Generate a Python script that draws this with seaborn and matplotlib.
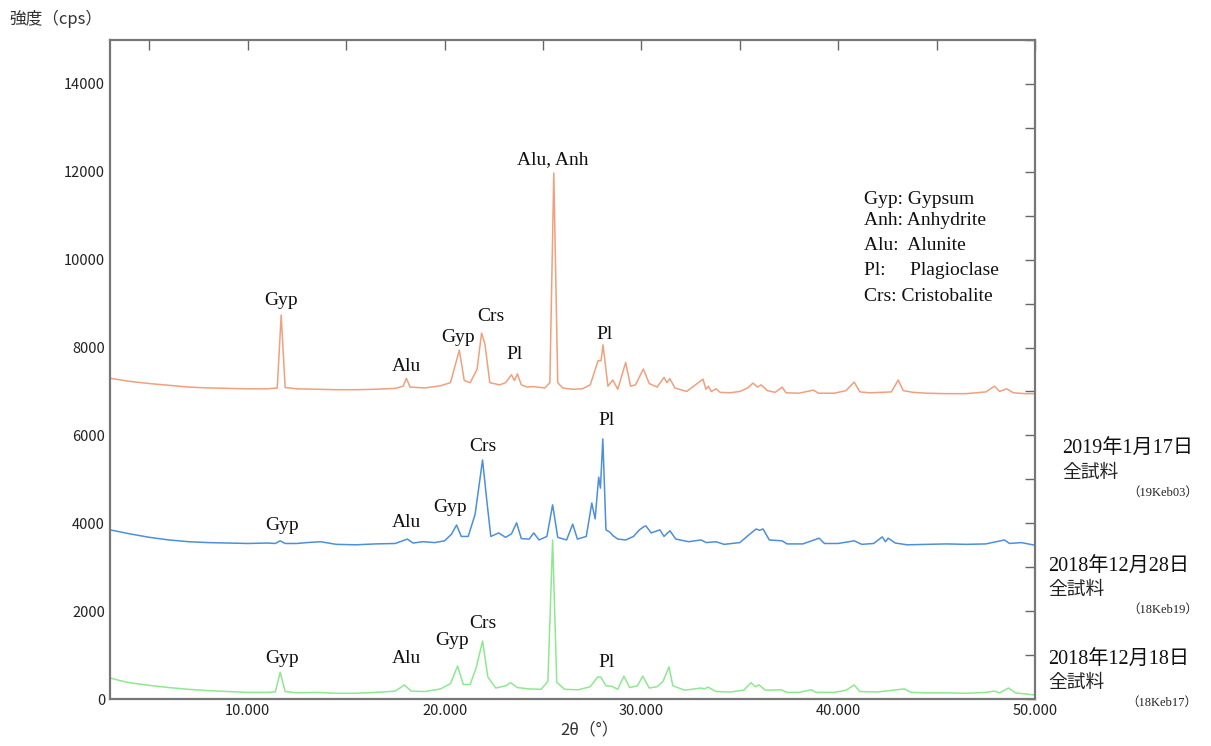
import pandas as pd
import seaborn as sns
import matplotlib.pyplot as plt
from matplotlib.ticker import MultipleLocator, FixedLocator

# 2019年1月17日 (19Keb03)
tt_19keb03 = [3.0, 4.0, 5.0, 6.0, 7.0, 8.0, 9.0, 10.0, 11.0, 11.5, 11.7, 11.9, 12.5, 13.5, 14.5,
              15.5, 16.5, 17.5, 17.9, 18.06, 18.25, 19.0, 19.8, 20.3, 20.75, 21.0, 21.3, 21.65,
              21.88, 22.05, 22.3, 22.8, 23.1, 23.4, 23.55, 23.7, 23.9, 24.2, 24.5, 25.1, 25.35,
              25.55, 25.75, 26.0, 26.5, 27.0, 27.4, 27.8, 27.95, 28.05, 28.3, 28.55, 28.8, 29.2,
              29.45, 29.7, 30.1, 30.4, 30.8, 31.15, 31.3, 31.45, 31.7, 32.3, 33.13, 33.28, 33.4,
              33.55, 33.8, 34.0, 34.5, 35.0, 35.4, 35.67, 35.9, 36.08, 36.4, 36.8, 37.15, 37.35,
              38.0, 38.73, 39.0, 39.8, 40.4, 40.81, 41.1, 41.6, 42.2, 42.7, 43.05, 43.3, 43.8,
              44.5, 45.5, 46.5, 47.5, 47.94, 48.2, 48.55, 48.9, 49.5, 50.0]
i_19keb03 = [7300, 7230, 7180, 7140, 7100, 7080, 7070, 7060, 7060, 7080, 8740, 7090, 7060, 7050, 7040,
             7040, 7050, 7070, 7120, 7300, 7100, 7080, 7130, 7200, 7940, 7250, 7200, 7500,
             8330, 8080, 7200, 7150, 7200, 7380, 7250, 7400, 7150, 7100, 7110, 7080, 7200,
             11970, 7200, 7080, 7050, 7060, 7150, 7700, 7700, 8060, 7120, 7260, 7050, 7660,
             7120, 7150, 7510, 7180, 7100, 7320, 7200, 7290, 7080, 7000, 7280, 7050, 7120,
             7000, 7060, 6980, 6970, 7000, 7080, 7190, 7100, 7150, 7020, 6980, 7100, 6970,
             6960, 7030, 6960, 6960, 7020, 7215, 6990, 6970, 6980, 6990, 7260, 7020, 6980,
             6960, 6950, 6950, 6990, 7120, 7000, 7060, 6970, 6950, 6950]

# 2018年12月28日 (18Keb19)
tt_18keb19 = [3.0, 4.0, 5.0, 6.0, 7.0, 8.0, 9.0, 10.0, 11.0, 11.4, 11.65, 11.9, 12.5, 13.0, 13.7,
              14.5, 15.5, 16.5, 17.5, 18.11, 18.4, 18.9, 19.5, 20.0, 20.35, 20.61, 20.85, 21.2,
              21.55, 21.93, 22.15, 22.35, 22.75, 23.1, 23.4, 23.66, 23.9, 24.3, 24.53, 24.8, 25.2,
              25.49, 25.75, 26.2, 26.51, 26.75, 27.2, 27.48, 27.65, 27.83, 27.92, 28.04, 28.2,
              28.39, 28.55, 28.8, 29.2, 29.6, 29.9, 30.12, 30.23, 30.5, 30.94, 31.15, 31.45,
              31.75, 32.4, 33.03, 33.3, 33.79, 34.2, 35.0, 35.5, 35.83, 36.0, 36.18, 36.5, 37.15,
              37.4, 38.2, 39.03, 39.3, 40.0, 40.81, 41.2, 41.8, 42.24, 42.4, 42.54, 42.9, 43.5,
              44.5, 45.5, 46.5, 47.5, 48.45, 48.7, 49.3, 50.0]
i_18keb19 = [3850, 3760, 3680, 3620, 3580, 3560, 3550, 3540, 3550, 3540, 3600, 3540, 3540, 3560, 3580,
             3520, 3510, 3530, 3540, 3640, 3550, 3580, 3560, 3600, 3750, 3960, 3700, 3700,
             4200, 5440, 4500, 3700, 3780, 3680, 3760, 4010, 3650, 3640, 3780, 3620, 3700,
             4420, 3680, 3620, 3980, 3640, 3700, 4460, 4100, 5050, 4800, 5920, 3850,
             3800, 3720, 3640, 3620, 3700, 3850, 3920, 3940, 3780, 3850, 3700, 3830,
             3640, 3580, 3620, 3560, 3580, 3520, 3560, 3750, 3870, 3840, 3870, 3620, 3600,
             3530, 3530, 3660, 3540, 3540, 3600, 3520, 3540, 3690, 3580, 3660, 3550, 3510,
             3520, 3530, 3520, 3530, 3620, 3540, 3560, 3500]

# 2018年12月18日 (18Keb17)
tt_18keb17 = [3.0, 3.5, 4.0, 5.0, 6.0, 7.0, 8.0, 9.0, 10.0, 11.0, 11.4, 11.65, 11.9, 12.5, 13.5,
              14.5, 15.5, 16.5, 17.5, 17.96, 18.3, 19.0, 19.8, 20.3, 20.66, 20.95, 21.3, 21.6,
              21.93, 22.2, 22.6, 23.1, 23.36, 23.7, 24.3, 24.9, 25.25, 25.49, 25.7, 26.1, 26.8,
              27.4, 27.78, 27.94, 28.2, 28.5, 28.8, 29.11, 29.4, 29.8, 30.07, 30.4, 30.8, 31.1,
              31.4, 31.6, 32.2, 33.03, 33.2, 33.38, 33.8, 34.5, 35.2, 35.57, 35.8, 35.98, 36.3,
              37.1, 37.4, 38.0, 38.62, 38.9, 39.8, 40.4, 40.81, 41.1, 42.0, 43.36, 43.7, 44.5,
              45.49, 46.5, 47.5, 47.94, 48.2, 48.65, 49.0, 50.0]
i_18keb17 = [480, 420, 370, 310, 260, 220, 190, 170, 150, 150, 160, 610, 170, 140, 150,
             130, 130, 150, 180, 320, 180, 170, 230, 350, 750, 330, 330, 700,
             1320, 500, 250, 300, 370, 260, 230, 220, 400, 3620, 380, 220, 210,
             280, 500, 500, 300, 290, 220, 520, 260, 300, 520, 250, 280, 400,
             730, 300, 200, 250, 230, 270, 170, 160, 200, 370, 280, 320, 200,
             210, 150, 150, 210, 150, 150, 200, 320, 170, 160, 230, 150, 140,
             140, 130, 150, 180, 140, 250, 140, 90]

# peak labels: (text, 2θ, cps)
labels_19keb03 = [("Gyp", 11.7, 9080), ("Alu", 18.06, 7560), ("Gyp", 20.7, 8220), ("Crs", 22.34, 8700),
                  ("Pl", 23.56, 7830), ("Alu, Anh", 25.49, 12270), ("Pl", 28.14, 8290)]
labels_18keb19 = [("Gyp", 11.75, 3960), ("Alu", 18.06, 4010), ("Gyp", 20.3, 4350), ("Crs", 21.93, 5740),
                  ("Pl", 28.24, 6330)]
labels_18keb17 = [("Gyp", 11.75, 930), ("Alu", 18.06, 930), ("Gyp", 20.4, 1340), ("Crs", 21.93, 1710),
                  ("Pl", 28.24, 820)]

mineral_key = ["Gyp: Gypsum", "Anh: Anhydrite", "Alu:  Alunite", "Pl:     Plagioclase", "Crs: Cristobalite"]
key_y = [11360, 10880, 10330, 9760, 9170]

sample_dates = ["2019年1月17日", "2018年12月28日", "2018年12月18日"]
sample_codes = ["（19Keb03）", "（18Keb19）", "（18Keb17）"]
sample_y = [0.397, 0.239, 0.115]
sample_x = [0.877, 0.8655, 0.8655]

colors = ["#F0A07C", "#4C8FDC", "#8EE890"]

df = pd.concat([
    pd.DataFrame({"tt": tt_19keb03, "cps": i_19keb03, "sample": "19Keb03"}),
    pd.DataFrame({"tt": tt_18keb19, "cps": i_18keb19, "sample": "18Keb19"}),
    pd.DataFrame({"tt": tt_18keb17, "cps": i_18keb17, "sample": "18Keb17"}),
])

sns.set_style("white")
plt.rcParams['font.family'] = ['Noto Sans CJK JP', 'DejaVu Sans']
serif = ['Liberation Serif', 'Noto Sans CJK JP']

fig = plt.figure(figsize=(12.11, 7.46), dpi=100)
ax = fig.add_axes([0.0908, 0.063, 0.7639, 0.8834])

sns.lineplot(data=df, x="tt", y="cps", hue="sample", palette=colors, estimator=None,
             sort=False, linewidth=1.1, legend=False, ax=ax)

ax.set_xlim(3, 50)
ax.set_ylim(0, 15000)
ax.xaxis.set_major_locator(FixedLocator([10, 20, 30, 40, 50]))
ax.xaxis.set_minor_locator(MultipleLocator(5))
ax.yaxis.set_major_locator(MultipleLocator(2000))
ax.yaxis.set_minor_locator(MultipleLocator(1000))
ax.set_xticklabels(["10.000", "20.000", "30.000", "40.000", "50.000"])
ax.tick_params(which="both", direction="in", top=True, right=True, color="#666666",
               labelsize=10.5, labelcolor="#222222")
ax.tick_params(which="major", length=7, width=1)
ax.tick_params(which="minor", length=7, width=1)
for s in ax.spines.values():
    s.set_color("#777777")
    s.set_linewidth(1.6)
ax.set_xlabel("")
ax.set_ylabel("")

for lab_list in (labels_19keb03, labels_18keb19, labels_18keb17):
    for txt, x, y in lab_list:
        ax.text(x, y, txt, ha="center", va="center", fontsize=14, family=serif, color="#111111")

for txt, y in zip(mineral_key, key_y):
    ax.text(41.3, y, txt, ha="left", va="center", fontsize=14, family=serif, color="#111111")

for date, code, x, y in zip(sample_dates, sample_codes, sample_x, sample_y):
    fig.text(x, y, date, ha="left", va="center", fontsize=14.5, family=serif, color="#111111")
    fig.text(x, y - 0.031, "全試料", ha="left", va="center", fontsize=13.5, family=serif,
             color="#222222")
    fig.text(0.989, y - 0.057, code, ha="right", va="center", fontsize=9, family=serif,
             color="#222222")

fig.text(0.008, 0.975, "強度（cps）", ha="left", va="center", fontsize=12, color="#333333")
fig.text(0.487, 0.021, "2θ（°）", ha="center", va="center", fontsize=12, color="#333333")

fig.savefig("out.png", dpi=100, facecolor="white")
